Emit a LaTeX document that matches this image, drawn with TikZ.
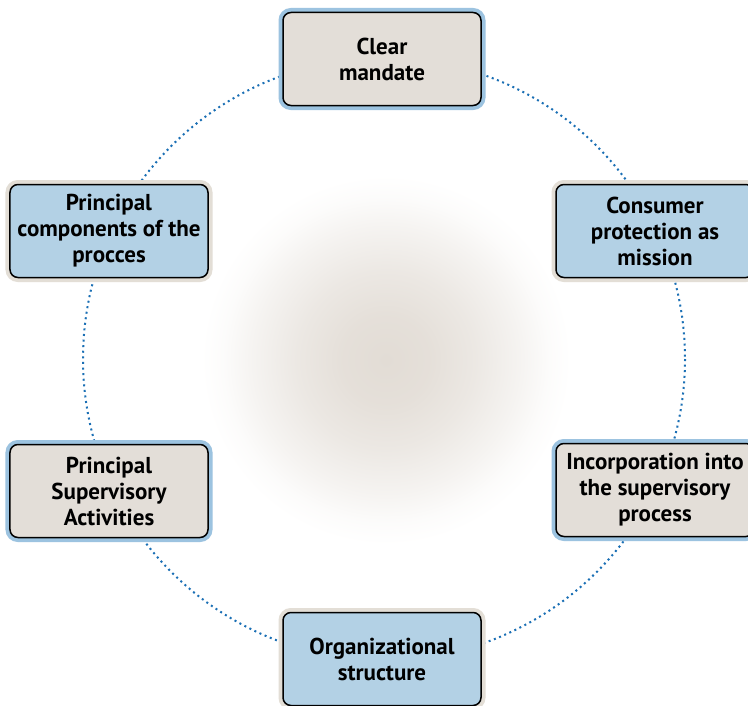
\documentclass[tikz,border=0pt]{standalone}
\usepackage{fontspec}
\setmainfont{PT Sans}
\definecolor{bluefill}{HTML}{B3D1E5}
\definecolor{greyfill}{HTML}{E3DED8}
\definecolor{bluehalo}{HTML}{9CC3E0}
\definecolor{beigehalo}{HTML}{E3DED6}
\definecolor{dotc}{HTML}{1A6FB5}
\definecolor{glowc}{HTML}{E2DCD5}
\pgfdeclareradialshading{glowshade}{\pgfpoint{0bp}{0bp}}{color(0bp)=(glowc); color(6bp)=(glowc!90!white); color(12bp)=(glowc!66!white); color(18bp)=(glowc!34!white); color(22bp)=(glowc!10!white); color(25bp)=(white); color(50bp)=(white)}
\tikzset{
  box/.style={rectangle, rounded corners=8bp, minimum width=198bp, minimum height=93bp,
    draw=black, line width=1.5bp, align=center, inner sep=2bp,
    font=\bfseries\fontsize{23bp}{26bp}\selectfont, text=black},
  bluebox/.style={box, fill=bluefill, preaction={draw=beigehalo, line width=9bp}},
  greybox/.style={box, fill=greyfill, preaction={draw=bluehalo, line width=9bp}},
  dotring/.style={draw=dotc, line width=2bp, dash pattern=on 2bp off 3.6bp}
}
\begin{document}
\begin{tikzpicture}[x=1bp,y=-1bp]
\useasboundingbox (0,0) rectangle (748,706);
\clip (0,0) rectangle (748,706);
\fill[white] (0,0) rectangle (748,706);
\shade[shading=glowshade] (386,360) circle (185);
\coordinate (c) at (384,359);
\draw[dotring] (c) circle (301);
\node[greybox] (mandate) at (382,59) {Clear\\mandate};
\node[bluebox] (consumer) at (655,231) {Consumer\\protection as\\mission};
\node[greybox] (incorp) at (655,490) {Incorporation into\\the supervisory\\process};
\node[bluebox] (org) at (382,659) {Organizational\\structure};
\node[greybox] (activities) at (109,491) {Principal\\Supervisory\\Activities};
\node[bluebox] (components) at (109,231) {Principal\\components of the\\procces};
\end{tikzpicture}
\end{document}
